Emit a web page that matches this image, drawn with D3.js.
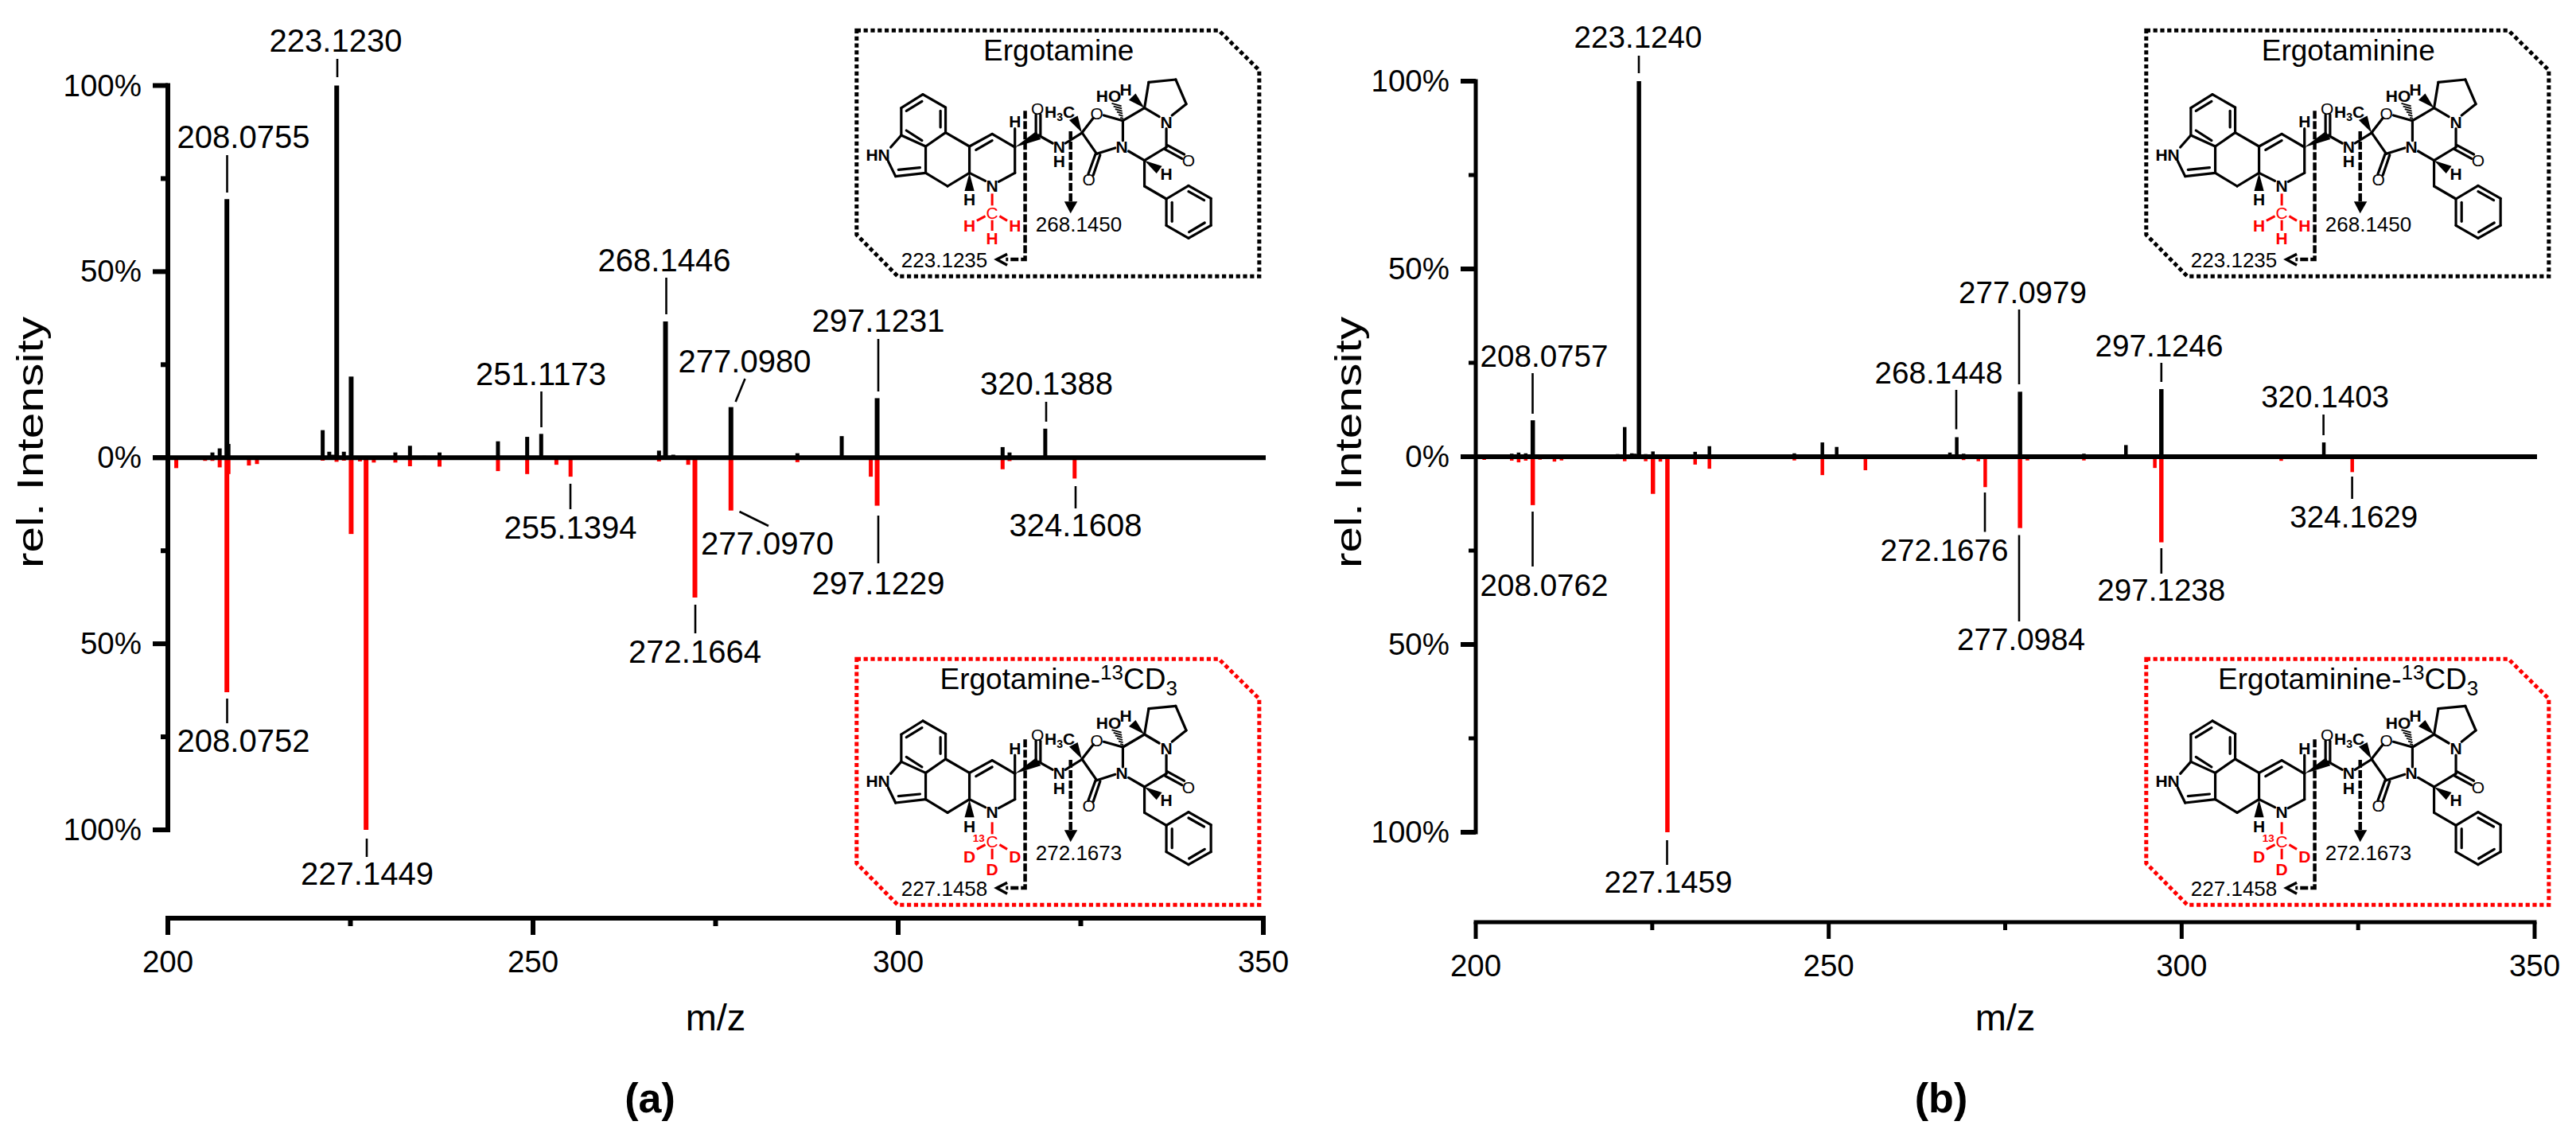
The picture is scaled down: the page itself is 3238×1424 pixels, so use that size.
<!DOCTYPE html>
<html><head><meta charset="utf-8">
<script src="https://cdn.jsdelivr.net/npm/d3@7/dist/d3.min.js"></script>
<style>html,body{margin:0;background:#fff}svg{display:block}text{font-family:"Liberation Sans",Arial,sans-serif}</style>
</head><body><svg id="c" width="3238" height="1424"></svg>
<script>
// ---- data: panel (a) ----
const aNativeMz = [206.1,207.1,208.08,208.3,221.2,222.1,222.6,223.12,224.1,225.1,231.15,233.15,235.1,237.2,245.2,249.2,251.12,267.25,268.14,269.2,277.1,286.2,292.27,297.12,314.3,315.25,320.14];
const aNativeInt = [1.4,2.5,69.5,3.7,7.4,1.6,0.8,100,1.6,21.8,1.4,3.2,0.5,1.4,4.4,5.6,6.4,1.9,36.6,0.8,13.6,1.2,5.8,16,2.85,1.4,7.8];
const aLabelMz = [201.15,205.1,206.1,207.1,208.08,208.3,211.1,212.2,221.2,223.1,224.1,225.1,226.3,227.14,228.2,231.15,233.15,237.2,245.2,249.2,253.2,255.14,267.25,271.25,272.17,277.1,286.2,296.25,297.12,314.3,315.25,324.16];
const aLabelInt = [2.8,0.85,0.85,2.6,63,4.4,2.1,1.7,0.8,1.1,0.8,20.5,1,100,1.3,1.3,2.3,2.4,3.6,4.4,1.9,5.1,1,1.9,37.6,14.2,1.2,5.1,12.9,3.1,0.9,5.6];
// ---- data: panel (b) ----
const bNativeMz = [205.1,206.07,207.08,208.08,220.1,221.1,222.1,222.55,223.12,224.07,225.1,231.08,233.1,245.13,249.1,251.13,253.2,267.17,268.14,269.1,277.1,286.15,292.1,297.12,314.1,320.14];
const bNativeInt = [0.8,1.1,0.9,9.7,0.7,7.9,0.9,0.8,100,0.7,1.4,1.3,2.8,0.9,3.8,2.6,0.6,1.1,5.2,0.8,17.3,0.8,3.1,18,0.6,3.8];
const bLabelMz = [201.2,205.1,206.07,207.08,208.08,209.1,211.15,212.15,221.1,224.07,225.1,226.15,227.15,231.08,233.1,245.13,249.1,255.2,269.1,271.2,272.17,277.1,278.15,286.15,296.2,297.12,314.1,324.16];
const bLabelInt = [0.85,1.05,1.5,1.05,12.9,0.8,1.3,1,1.2,1.2,9.9,1.3,100,2.1,3.2,1,4.9,3.6,0.9,1.2,8.1,19,1,1,3,22.8,1.1,4.1];
// ---- tick labels, titles ----
const xTicks = [200,225,250,275,300,325,350];
const xTickLabels = ["200","250","300","350"];
const yTicks = [-100,-75,-50,-25,0,25,50,75,100];
const yTickLabels = ["100%","50%","0%","50%","100%"];
// ---- peak annotations: [text, label centre x, label baseline y, leader x1, y1, x2, y2] (layout, in page pixels)
const aNotes = [
 ["223.1230",422,65,424,74,424,97],["208.0755",306,186,285.5,195,285.5,242],
 ["268.1446",835,341,837.5,349,837.5,395],["251.1173",680,484,680.5,492,680.5,537],
 ["277.0980",936,468,936.5,476,924.6,505],["297.1231",1104,417,1104,426,1104,492],
 ["320.1388",1315.5,496,1315,505,1315,530],
 ["208.0752",306,945,285.5,878,285.5,909],["227.1449",461.5,1112,461,1054,461,1077],
 ["255.1394",717,677,717,608,717,640],["272.1664",873.5,833,874,760,874,796],
 ["277.0970",964.5,697,929.5,643,966,661],["297.1229",1104,747,1104,648,1104,708],
 ["324.1608",1352,674,1352,611,1352,639]];
const bNotes = [
 ["223.1240",2059,60,2060,70,2060,92],["208.0757",1941,460.5,1926.5,469,1926.5,520],
 ["277.0979",2542.5,381,2538,389,2538,483],["268.1448",2437,482,2459,490,2459,539.5],
 ["297.1246",2714,447.7,2716.8,456,2716.8,480],["320.1403",2922.6,512,2920.6,521,2920.6,547],
 ["208.0762",1941,748.6,1926.5,643,1926.5,712],["227.1459",2097,1122,2095.5,1056,2095.5,1087],
 ["272.1676",2444,704.6,2495,619,2495,668.5],["277.0984",2540.5,817,2538,672.5,2538,781],
 ["297.1238",2716.8,755,2716.8,689,2716.8,721],["324.1629",2958.8,663,2956.6,599,2956.6,627]];

const svg = d3.select("#c");
const RED = "#ff0000";

function panel(o){
  const g = svg.append("g");
  const x = d3.scaleLinear().domain([200,350]).range([o.x0,o.x1]);
  const y = d3.scaleLinear().domain([-100,100]).range([o.yB,o.yT]);
  const y0 = y(0);
  const barW = v=> v>=9 ? o.wBig : o.wSmall;
  g.append("g").selectAll("line").data(d3.zip(o.lMz,o.lInt)).join("line")
    .attr("x1",d=>x(d[0])).attr("x2",d=>x(d[0])).attr("y1",y0).attr("y2",d=>y(-d[1]))
    .attr("stroke",RED).attr("stroke-width",d=>barW(d[1]));
  g.append("g").selectAll("line").data(d3.zip(o.nMz,o.nInt)).join("line")
    .attr("x1",d=>x(d[0])).attr("x2",d=>x(d[0])).attr("y1",y0).attr("y2",d=>y(d[1]))
    .attr("stroke","#000").attr("stroke-width",d=>barW(d[1]));
  g.append("line").attr("x1",o.x0-19).attr("x2",x(350)+3).attr("y1",y0).attr("y2",y0).attr("stroke","#000").attr("stroke-width",6);
  const ya = d3.axisLeft(y).tickValues(yTicks).tickFormat("").tickSizeOuter(0);
  const yg = g.append("g").attr("transform",`translate(${o.x0},0)`).call(ya);
  yg.select(".domain").attr("stroke-width",o.axisW).attr("d",`M0,${o.yT-o.axisW/2}V${o.yB+o.axisW/2}`);
  yg.selectAll(".tick line").attr("stroke","#000")
    .attr("x2",d=>d%50===0?-19:-9).attr("stroke-width",d=>d%50===0?6:o.axisW);
  yg.selectAll(".tick").attr("transform",d=>`translate(0,${y(d)})`);
  g.selectAll("text.yl").data([100,50,0,-50,-100]).join("text").attr("class","yl")
    .attr("x",o.x0-33).attr("y",d=>y(d)+13).attr("text-anchor","end").attr("font-size",38.5)
    .text((d,i)=>yTickLabels[i]);
  const xa = d3.axisBottom(x).tickValues(xTicks).tickFormat("").tickSizeOuter(0);
  const xg = g.append("g").attr("transform",`translate(0,${o.xAxisY})`).call(xa);
  xg.select(".domain").attr("stroke-width",o.axisW).attr("d",`M${o.x0-o.axisW/2},0H${o.x1+o.axisW/2}`);
  xg.selectAll(".tick").attr("transform",d=>`translate(${x(d)},0)`);
  xg.selectAll(".tick line").attr("stroke","#000").attr("stroke-width",o.axisW)
    .attr("y2",d=>d%50===0?21:10);
  g.selectAll("text.xl").data([200,250,300,350]).join("text").attr("class","xl")
    .attr("x",d=>x(d)).attr("y",o.xLabelY).attr("text-anchor","middle").attr("font-size",38.5)
    .text((d,i)=>xTickLabels[i]);
  g.append("text").attr("x",x(275)).attr("y",o.xTitleY).attr("text-anchor","middle").attr("font-size",47).text("m/z");
  g.append("text").attr("transform",`translate(${o.yTitleX},${o.yTitleC}) rotate(-90)`).attr("text-anchor","middle")
    .attr("font-size",46).attr("textLength",316).attr("lengthAdjust","spacingAndGlyphs").text("rel. Intensity");
  g.append("text").attr("x",o.capX).attr("y",1398).attr("text-anchor","middle").attr("font-size",52).attr("font-weight","bold").text(o.cap);
  o.notes.forEach(n=>{
    g.append("text").attr("x",n[1]).attr("y",n[2]).attr("text-anchor","middle").attr("font-size",o.noteFs).text(n[0]);
    g.append("line").attr("x1",n[3]).attr("y1",n[4]).attr("x2",n[5]).attr("y2",n[6]).attr("stroke","#000").attr("stroke-width",2.6);
  });
}

// ---- molecule drawing (layout coordinates, 1 unit = 1/2.8 px across, 1/3 px down) ----
const bonds = [
 [308,296,388,345],[388,345,388,440],[388,440,318,492],[318,492,232,450],[232,450,232,347],[232,347,308,296],
 [250,358,305,322],[370,358,370,420],[250,432,305,470],
 [232,450,195,495],[186,548,212,605],[212,605,318,592],[222,580,298,572],[318,592,318,492],
 [318,592,395,642],[395,642,472,592],[472,592,472,492],[472,492,388,440],[472,492,552,445],[495,505,552,470],
 [552,445,632,495],[632,495,632,592],[632,592,575,625],[472,592,528,622],[632,495,632,425],
 [706,450,706,372],[722,450,722,372],[715,450,765,480],[810,480,870,440],[868,440,908,385],[868,440,920,520],
 [916,520,890,597],[932,524,908,600],[920,520,985,498],[945,375,1012,395],[1012,395,1012,470],[1012,395,1088,347],
 [1088,347,1103,250],[1103,250,1198,240],[1198,240,1235,332],[1235,332,1185,375],[1088,347,1140,380],
 [1165,425,1165,495],[1168,487,1228,522],[1160,503,1220,538],[1165,495,1088,545],[1088,545,1032,510],
 [1088,545,1088,642],[1088,642,1165,690],
 [1165,690,1243,640],[1243,640,1322,688],[1322,688,1322,790],[1322,790,1243,838],[1243,838,1165,790],[1165,790,1165,690],
 [1185,703,1185,775],[1243,662,1298,695],[1245,815,1300,780]];
const wedges = [[472,592,472,660],[632,495,715,450],[868,440,838,385],[1088,347,1045,305],[1088,545,1140,580]];
const hash = [[1012,395,990,335]];
const atoms = [["HN",150,522],["N",552,640],["H",472,692],["H",632,398],["O",712,348],["N",788,492],["H",788,548],
 ["O",920,368],["O",892,615],["N",1008,492],["H",1022,277],["N",1165,400],["O",1243,545],["H",1165,595]];

function molecule(ox,oy,labelled,notes,title,boxCol){
  const g = svg.append("g");
  const sx=v=>ox+v/2.8, sy=v=>oy+v/3;
  const dy = labelled?-8:0;
  const sya=v=>sy(v+dy);
  g.append("path").attr("d",d3.line()([[75,55],[1350,55],[1492,205],[1492,982],[220,982],[75,825]].map(p=>[sx(p[0]),sy(p[1])]))+"Z")
    .attr("fill","none").attr("stroke",boxCol).attr("stroke-width",5).attr("stroke-dasharray","5.2 3.6");
  const t=g.append("text").attr("x",sx(786)).attr("y",sy(168)).attr("text-anchor","middle").attr("font-size",37);
  t.append("tspan").text(title);
  if(labelled){
    t.append("tspan").text("-");
    t.append("tspan").attr("font-size",26).attr("dy",-12).text("13");
    t.append("tspan").attr("dy",12).text("CD");
    t.append("tspan").attr("font-size",26).attr("dy",8).text("3");
  }
  g.append("g").selectAll("line").data(bonds).join("line")
    .attr("x1",d=>sx(d[0])).attr("y1",d=>sya(d[1])).attr("x2",d=>sx(d[2])).attr("y2",d=>sya(d[3]))
    .attr("stroke","#000").attr("stroke-width",3.2).attr("stroke-linecap","round");
  g.append("g").selectAll("path").data(wedges).join("path").attr("fill","#000").attr("d",d=>{
    const a=Math.atan2(d[3]-d[1],d[2]-d[0]),w=17;
    return d3.line()([[d[0],d[1]],[d[2]+w*Math.sin(a),d[3]-w*Math.cos(a)],[d[2]-w*Math.sin(a),d[3]+w*Math.cos(a)]].map(p=>[sx(p[0]),sya(p[1])]))+"Z";});
  hash.forEach(d=>{
    d3.range(1,7).forEach(i=>{const f=i/6,cx=d[0]+(d[2]-d[0])*f,cy=d[1]+(d[3]-d[1])*f,w=3+14*f;
      g.append("line").attr("x1",sx(cx-w)).attr("x2",sx(cx+w)).attr("y1",sya(cy-w*.3)).attr("y2",sya(cy+w*.3)).attr("stroke","#000").attr("stroke-width",1.8);});
  });
  atoms.forEach(a=>g.append("text").attr("x",sx(a[1])).attr("y",sya(a[2])+7.5).attr("text-anchor","middle").attr("font-size",21).attr("font-weight",a[0]==="O"?"normal":"bold").text(a[0]));
  const h3=g.append("text").attr("x",sx(790)).attr("y",sya(362)+7.5).attr("text-anchor","middle").attr("font-size",21).attr("font-weight","bold");
  h3.append("tspan").text("H");h3.append("tspan").attr("font-size",14).attr("dy",4).text("3");h3.append("tspan").attr("dy",-4).text("C");
  g.append("text").attr("x",sx(962)).attr("y",sya(302)+7.5).attr("text-anchor","middle").attr("font-size",21).attr("font-weight","bold").text("HO");
  const red=[[552,670,552,715],[528,755,498,772],[578,755,605,772],[552,770,552,810]];
  g.append("g").selectAll("line").data(red).join("line")
    .attr("x1",d=>sx(d[0])).attr("y1",d=>sy(d[1])).attr("x2",d=>sx(d[2])).attr("y2",d=>sy(d[3]))
    .attr("stroke",RED).attr("stroke-width",3);
  const sub=labelled?"D":"H";
  [["C",552,742],[sub,472,labelled?798:790],[sub,632,labelled?798:790],[sub,552,labelled?846:838]].forEach(a=>
    g.append("text").attr("x",sx(a[1])).attr("y",sy(a[2])+7.5).attr("text-anchor","middle").attr("font-size",21).attr("font-weight",a[0]==="C"?"normal":"bold").attr("fill",RED).text(a[0]));
  if(labelled) g.append("text").attr("x",sx(505)).attr("y",sy(745)).attr("text-anchor","middle").attr("font-size",13.5).attr("font-weight","bold").attr("fill",RED).text("13");
  g.append("path").attr("d",`M${sx(668)},${sy(358)}V${sy(918)}H${sx(600)}`).attr("fill","none").attr("stroke","#000").attr("stroke-width",4.5).attr("stroke-dasharray","10 3");
  g.append("path").attr("d",`M${sx(605)},${sy(898)}L${sx(568)},${sy(918)}L${sx(605)},${sy(940)}`).attr("fill","none").attr("stroke","#000").attr("stroke-width",3.5);
  g.append("path").attr("d",`M${sx(828)},${sy(435)}V${sy(700)}`).attr("fill","none").attr("stroke","#000").attr("stroke-width",4.5).attr("stroke-dasharray","10 3");
  g.append("path").attr("d",`M${sx(806)},${sy(700)}H${sx(852)}L${sx(828)},${sy(745)}Z`).attr("fill","#000");
  g.append("text").attr("x",sx(705)).attr("y",sy(812)).attr("font-size",26).text(notes[0]);
  g.append("text").attr("x",sx(232)).attr("y",sy(948)).attr("font-size",26).text(notes[1]);
}

panel({x0:211,x1:1588,yT:107.5,yB:1043,xAxisY:1154,xLabelY:1222,xTitleY:1295,yTitleX:54,yTitleC:556,axisW:6,wBig:6,wSmall:5,noteFs:40,cap:"(a)",capX:817,
  nMz:aNativeMz,nInt:aNativeInt,lMz:aLabelMz,lInt:aLabelInt,notes:aNotes});
panel({x0:1855,x1:3186,yT:102,yB:1046,xAxisY:1159,xLabelY:1227,xTitleY:1295,yTitleX:1711,yTitleC:556,axisW:5,wBig:5.5,wSmall:4.5,noteFs:38.6,cap:"(b)",capX:2440,
  nMz:bNativeMz,nInt:bNativeInt,lMz:bLabelMz,lInt:bLabelInt,notes:bNotes});

molecule(1050,20,false,["268.1450","223.1235"],"Ergotamine","#000");
molecule(1050,810,true,["272.1673","227.1458"],"Ergotamine",RED);
molecule(2671,20,false,["268.1450","223.1235"],"Ergotaminine","#000");
molecule(2671,810,true,["272.1673","227.1458"],"Ergotaminine",RED);
</script></body></html>
